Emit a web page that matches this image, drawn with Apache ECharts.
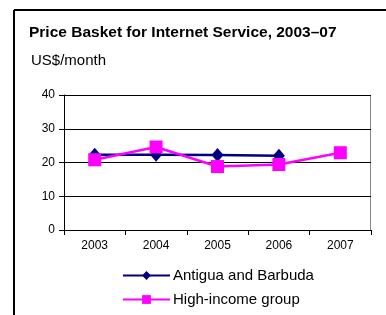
<!DOCTYPE html>
<html>
<head>
<meta charset="utf-8">
<script src="https://cdn.jsdelivr.net/npm/echarts@6/dist/echarts.min.js"></script>
<style>
  html, body { margin: 0; padding: 0; background: #fff; }
  #chart { width: 386px; height: 315px; }
</style>
</head>
<body>
<div id="chart"></div>
<script>
// data
const years = ['2003', '2004', '2005', '2006', '2007'];
const antigua = [22.3, 22.3, 22.2, 22.0, null];
const highIncome = [20.8, 24.6, 18.8, 19.4, 22.9];
const yTicks = [0, 10, 20, 30, 40];

const chart = echarts.init(document.getElementById('chart'));
const font = 'Arial, "Liberation Sans", sans-serif';

chart.setOption({
  animation: false,
  textStyle: { fontFamily: font },
  graphic: [
    // outer frame, top and left only
    { type: 'line', shape: { x1: 14, y1: 10, x2: 386, y2: 10 }, style: { stroke: '#000', lineWidth: 2 } },
    { type: 'line', shape: { x1: 14, y1: 10, x2: 14, y2: 315 }, style: { stroke: '#000', lineWidth: 2 } },
    // plot border top/right
    { type: 'line', shape: { x1: 64, y1: 95.5, x2: 371, y2: 95.5 }, style: { stroke: '#888', lineWidth: 1 } },
    { type: 'line', shape: { x1: 370.5, y1: 95, x2: 370.5, y2: 230 }, style: { stroke: '#888', lineWidth: 1 } },
    {
      type: 'text', left: 29, top: 25,
      style: { text: 'Price Basket for Internet Service, 2003\u201307', font: 'bold 15.5px ' + font, fill: '#000' }
    },
    {
      type: 'text', left: 31, top: 53,
      style: { text: 'US$/month', font: '15px ' + font, fill: '#000' }
    }
  ],
  grid: { left: 64, right: 15, top: 95, bottom: 85, containLabel: false },
  xAxis: {
    type: 'category',
    data: years,
    boundaryGap: true,
    axisLine: { lineStyle: { color: '#000', width: 1 } },
    axisTick: { show: true, length: 5, lineStyle: { color: '#000' } },
    axisLabel: { color: '#000', fontSize: 12, margin: 10 },
    splitLine: { show: false }
  },
  yAxis: {
    type: 'value',
    min: yTicks[0],
    max: yTicks[yTicks.length - 1],
    interval: 10,
    axisLine: { show: true, lineStyle: { color: '#000', width: 1 } },
    axisTick: { show: true, length: 5, lineStyle: { color: '#000' } },
    axisLabel: { color: '#000', fontSize: 12, margin: 9 },
    splitLine: { show: true, lineStyle: { color: '#000', width: 1 } }
  },
  legend: {
    orient: 'vertical',
    left: 117,
    top: 263,
    itemGap: 9,
    itemWidth: 47,
    itemHeight: 11,
    textStyle: { color: '#000', fontSize: 15, fontFamily: font, padding: [0, 0, 0, -2] },
    data: ['Antigua and Barbuda', 'High-income group']
  },
  series: [
    {
      name: 'Antigua and Barbuda',
      type: 'line',
      data: antigua,
      symbol: 'diamond',
      symbolSize: [12, 14],
      itemStyle: { color: '#000080' },
      lineStyle: { color: '#000080', width: 2.5 },
      z: 2
    },
    {
      name: 'High-income group',
      type: 'line',
      data: highIncome,
      symbol: 'rect',
      symbolSize: 13,
      itemStyle: { color: '#ff00ff' },
      lineStyle: { color: '#ff00ff', width: 2.5 },
      z: 3
    }
  ]
});
</script>
</body>
</html>
